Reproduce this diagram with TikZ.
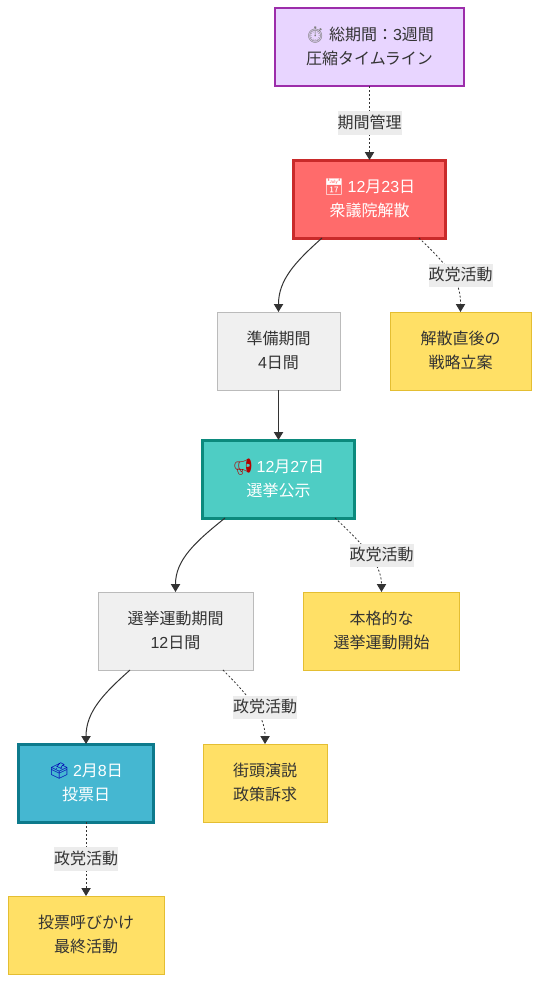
\documentclass[tikz,border=0pt]{standalone}
\usepackage{fontspec}
\setmainfont{Noto Sans CJK JP}
\newfontfamily\latfont{Liberation Sans}
\newfontfamily\emojifont{Noto Emoji}
\usepackage{xcolor}
\usetikzlibrary{arrows.meta,positioning}
\definecolor{inkdark}{RGB}{51,51,51}
\definecolor{lblgray}{RGB}{236,236,236}
\definecolor{spangray}{RGB}{240,240,240}
\definecolor{spanline}{RGB}{187,187,187}
\definecolor{noteyel}{RGB}{255,224,102}
\definecolor{noteline}{RGB}{228,190,50}
\definecolor{totalfill}{RGB}{232,213,255}
\definecolor{totalline}{RGB}{156,45,170}
\definecolor{dissfill}{RGB}{255,107,107}
\definecolor{dissline}{RGB}{201,42,42}
\definecolor{campfill}{RGB}{78,205,196}
\definecolor{campline}{RGB}{12,138,125}
\definecolor{votefill}{RGB}{69,183,209}
\definecolor{voteline}{RGB}{13,122,140}
\newcommand{\lat}[1]{{\latfont #1}}
\newcommand{\emo}[2]{{\emojifont\textcolor{#1}{#2}}}

\begin{document}
\begin{tikzpicture}[
      x=0.75pt, y=-0.75pt,
      >={Triangle[length=6pt,width=7pt]}, node distance=55.5pt,
      base/.style={draw, align=center, inner sep=0pt, outer sep=0pt, minimum height=58.5pt,
                   text depth=2.2pt, font=\fontsize{12}{18}\selectfont, text=inkdark},
      total/.style={base, fill=totalfill, draw=totalline, line width=1.5pt},
      event/.style={base, line width=2.25pt, text=white},
      span/.style={base, fill=spangray, draw=spanline, line width=0.75pt},
      note/.style={base, fill=noteyel, draw=noteline, line width=0.75pt},
      lbl/.style={fill=lblgray, inner sep=0pt, outer sep=0pt, minimum width=48pt, minimum height=17.5pt,
                  text depth=2.2pt, font=\fontsize{12}{18}\selectfont, text=inkdark},
      solidedge/.style={->, inkdark, line width=0.75pt},
      dotedge/.style={->, inkdark, line width=0.6pt, dash pattern=on 1.5pt off 1.5pt}
    ]
    \useasboundingbox (0,0) rectangle (539,982);

    \node[total, minimum width=141.75pt] (total) at (369.5,47)
      {\emo{gray}{^^^^23f1}\ 総期間：\lat{3}週間\\圧縮タイムライン};

    \node[event, fill=dissfill, draw=dissline, minimum width=114.25pt, below=of total] (dissolve)
      {\emo{white}{^^^^^1f4c5}\ \lat{12}月\lat{23}日\\衆議院解散};

    \node[span, minimum width=92.25pt, below=of dissolve, xshift=-68.25pt] (prep)
      {準備期間\\\lat{4}日間};
    \node[note, minimum width=105.75pt, right=37.5pt of prep] (strategy)
      {解散直後の\\戦略立案};

    \node[event, fill=campfill, draw=campline, minimum width=114.25pt, below=37.5pt of prep] (notice)
      {\emo{red!70!black}{^^^^^1f4e2}\ \lat{12}月\lat{27}日\\選挙公示};

    \node[span, minimum width=116.25pt, below=of notice, xshift=-77.25pt] (campaign)
      {選挙運動期間\\\lat{12}日間};
    \node[note, minimum width=117pt, below=of notice, xshift=77.25pt] (kickoff)
      {本格的な\\選挙運動開始};

    \node[event, fill=votefill, draw=voteline, minimum width=101.5pt, below=of campaign, xshift=-67.1pt] (vote)
      {\emo{blue!70!black}{^^^^^1f5f3}\ \lat{2}月\lat{8}日\\投票日};
    \node[note, minimum width=93pt, right=37pt of vote] (street)
      {街頭演説\\政策訴求};
    \node[note, minimum width=117pt, below=of vote] (final)
      {投票呼びかけ\\最終活動};

    % main line
    \draw[solidedge] ([xshift=-35.6pt]dissolve.south) .. controls +(-27,24) and +(0,-32) .. (prep.north);
    \draw[solidedge] (prep) -- (notice);
    \draw[solidedge] ([xshift=-40.1pt]notice.south) .. controls +(-30,24) and +(0,-32) .. (campaign.north);
    \draw[solidedge] ([xshift=-34.1pt]campaign.south) .. controls +(-27,24) and +(0,-32) .. (vote.north);

    % party activities
    \draw[dotedge] (total) -- (dissolve) node[midway, lbl] (lblperiod) {期間管理};
    \draw[dotedge] ([xshift=37.1pt]dissolve.south) .. controls +(36,34) and +(0,-27) .. (strategy.north);
    \draw[dotedge] ([xshift=42.4pt]notice.south) .. controls +(30,28) and +(0,-27) .. (kickoff.north);
    \draw[dotedge] ([xshift=35.6pt]campaign.south) .. controls +(28,28) and +(0,-27) .. (street.north);
    \draw[dotedge] (vote) -- (final) node[midway, lbl] (lblfinal) {政党活動};

    \node[lbl, above=18.75pt of strategy] (lblstrategy) {政党活動};
    \node[lbl, above=18.75pt of kickoff]  (lblkickoff)  {政党活動};
    \node[lbl, above=18.75pt of street]   (lblstreet)   {政党活動};
  \end{tikzpicture}
\end{document}
